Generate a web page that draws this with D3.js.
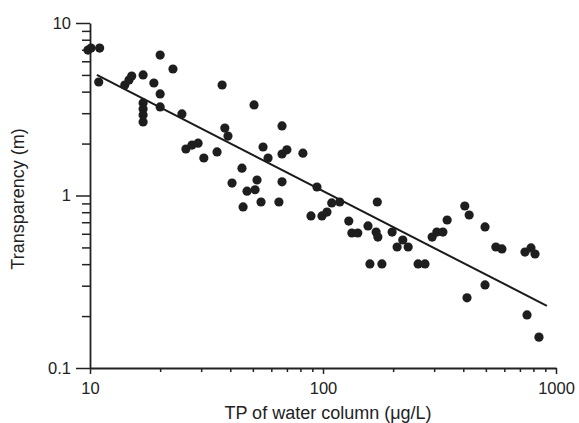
<!DOCTYPE html>
<html>
<head>
<meta charset="utf-8">
<script src="https://cdn.jsdelivr.net/npm/d3@7"></script>
<style>
  body { margin: 0; background: #fff; }
  text { font-family: "Liberation Sans", Arial, sans-serif; fill: #222; }
</style>
</head>
<body>
<div id="chart"></div>
<script>
// TP of water column (ug/L) and transparency (m)
const tp = [9.8, 10.1, 11.0, 10.9, 14.1, 14.7, 15.1, 16.9, 18.8, 20.0,
  22.7, 20.0, 20.0, 16.9, 16.9, 16.9, 16.9, 24.8, 25.8, 27.4,
  29.1, 30.8, 35.1, 36.9, 50.6, 37.9, 39.1, 66.7, 55.3, 58.1,
  66.7, 70.0, 82.0, 44.9, 40.7, 52.1, 47.2, 51.1, 66.7, 94.2,
  45.4, 54.2, 64.7, 88.8, 99.0, 104, 109, 118, 129, 133,
  141, 156, 169, 172, 171, 159, 179, 198, 208, 220,
  232, 256, 274, 294, 308, 327, 341, 406, 424, 496,
  552, 586, 496, 415, 736, 781, 813, 751, 845];
const transparency = [6.97, 7.16, 7.16, 4.55, 4.37, 4.67, 4.93, 5.0, 4.49, 6.52,
  5.41, 3.88, 3.26, 3.44, 3.17, 2.93, 2.67, 2.97, 1.86, 1.96,
  2.01, 1.65, 1.79, 4.37, 3.35, 2.46, 2.21, 2.53, 1.91, 1.65,
  1.74, 1.84, 1.76, 1.44, 1.18, 1.23, 1.06, 1.08, 1.20, 1.12,
  0.858, 0.917, 0.917, 0.761, 0.761, 0.802, 0.906, 0.917, 0.711, 0.606,
  0.606, 0.666, 0.614, 0.574, 0.917, 0.401, 0.401, 0.614, 0.503, 0.552,
  0.503, 0.401, 0.401, 0.574, 0.614, 0.614, 0.721, 0.869, 0.771, 0.657,
  0.503, 0.490, 0.303, 0.255, 0.470, 0.497, 0.458, 0.203, 0.151];
// regression line end points
const fit_tp = [10.7, 914];
const fit_transparency = [5.0, 0.229];
const x_labels = [10, 100, 1000];
const y_labels = [0.1, 1, 10];

const width = 579, height = 423;

const x_scale = d3.scaleLog().domain([10, 1000]).range([90, 556]);
const y_scale = d3.scaleLog().domain([0.1, 10]).range([368, 23]);

const svg = d3.select('#chart')
  .append('svg')
    .attr('width', width)
    .attr('height', height);

// minor ticks
const x_minor = x_scale.ticks().filter(d => !x_labels.includes(d));
const y_minor = y_scale.ticks().filter(d => !y_labels.includes(d));

svg.append('g')
    .attr('transform', 'translate(0,368)')
    .call(d3.axisBottom(x_scale).tickValues(x_minor).tickSize(4).tickFormat(''))
    .call(g => g.select('.domain').remove());
svg.append('g')
    .attr('transform', 'translate(90,0)')
    .call(d3.axisLeft(y_scale).tickValues(y_minor).tickSize(8).tickFormat(''))
    .call(g => g.select('.domain').remove());

// major ticks + labels
const x_axis = svg.append('g')
    .attr('transform', 'translate(0,368)')
    .call(d3.axisBottom(x_scale).tickValues(x_labels).tickSize(6).tickSizeOuter(0)
      .tickPadding(8).tickFormat(d3.format('d')));
const y_axis = svg.append('g')
    .attr('transform', 'translate(90,0)')
    .call(d3.axisLeft(y_scale).tickValues(y_labels).tickSize(14).tickSizeOuter(0)
      .tickPadding(5).tickFormat(d => d));

svg.selectAll('.tick line').attr('stroke', '#222').attr('stroke-width', 1.5);
svg.selectAll('.domain').attr('stroke', '#222').attr('stroke-width', 1.8);
svg.selectAll('.tick text').style('font-size', '16.5px').attr('fill', '#222');

// regression line
svg.append('path')
    .datum(d3.zip(fit_tp, fit_transparency))
    .attr('fill', 'none')
    .attr('stroke', '#1a1a1a')
    .attr('stroke-width', 2)
    .attr('d', d3.line().x(d => x_scale(d[0])).y(d => y_scale(d[1])));

// points
svg.selectAll('.pt')
    .data(d3.zip(tp, transparency))
  .join('circle')
    .attr('class', 'pt')
    .attr('cx', d => x_scale(d[0]))
    .attr('cy', d => y_scale(d[1]))
    .attr('r', 4.6)
    .attr('fill', '#1e1e1e');

// axis titles
svg.append('text')
    .attr('x', 328)
    .attr('y', 419)
    .attr('text-anchor', 'middle')
    .style('font-size', '18px')
    .text('TP of water column (μg/L)');
svg.append('text')
    .attr('transform', 'translate(24,199) rotate(-90)')
    .attr('text-anchor', 'middle')
    .style('font-size', '18px')
    .text('Transparency (m)');
</script>
</body>
</html>
